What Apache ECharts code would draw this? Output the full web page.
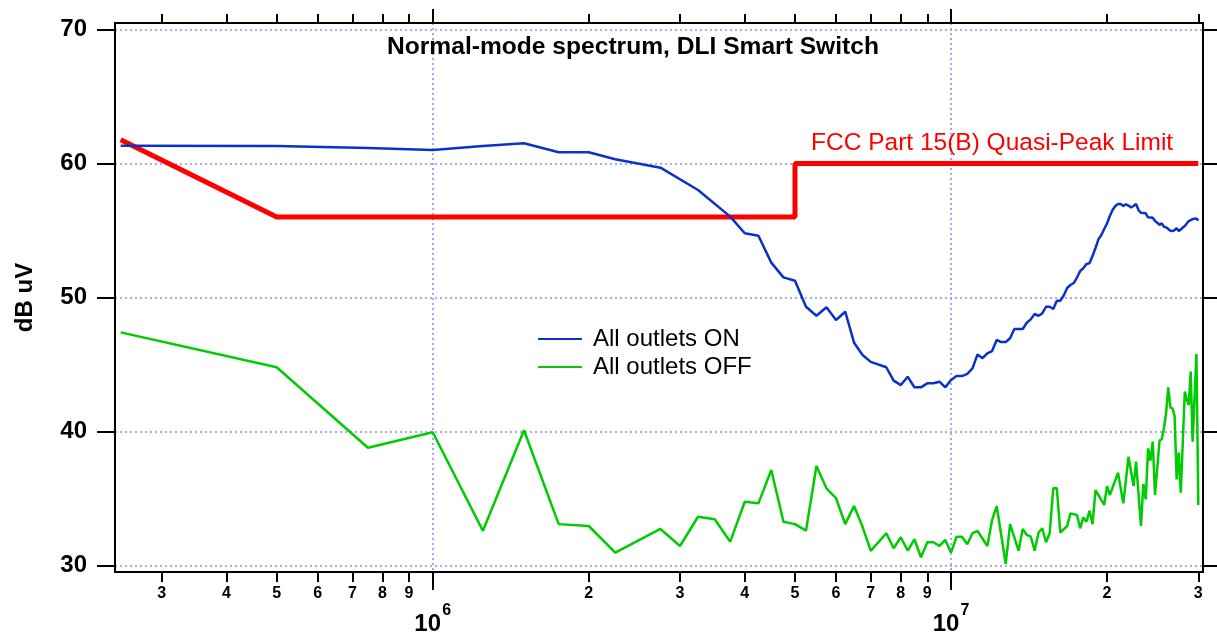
<!DOCTYPE html>
<html>
<head>
<meta charset="utf-8">
<title>Normal-mode spectrum, DLI Smart Switch</title>
<script src="https://cdn.jsdelivr.net/npm/echarts@6/dist/echarts.min.js"></script>
<style>
  html, body { margin: 0; padding: 0; background: #fff; }
  #chart { width: 1217px; height: 639px; }
</style>
</head>
<body>
<div id="chart"></div>
<script>
// frequencies in MHz, levels in dB uV
const onFreqMHz = [
  0.25, 0.5, 0.75, 1.0, 1.25, 1.5, 1.75, 2.0, 2.25, 2.75, 3.25, 3.75, 4.0, 4.25, 4.5, 4.75,
  5.0, 5.25, 5.5, 5.75, 6.0, 6.25, 6.5, 6.75, 7.0, 7.5, 7.75, 8.0, 8.25, 8.5, 8.75, 9.0,
  9.25, 9.5, 9.75, 10.0, 10.25, 10.5, 10.75, 11.0, 11.25, 11.5, 11.75, 12.0, 12.25, 12.5,
  12.75, 13.0, 13.25, 13.5, 13.75, 14.0, 14.25, 14.5, 14.75, 15.0, 15.25, 15.5, 15.75,
  16.0, 16.25, 16.5, 16.75, 17.0, 17.25, 17.5, 17.75, 18.0, 18.25, 18.5, 18.75, 19.0,
  19.25, 19.5, 19.75, 20.0, 20.25, 20.5, 20.75, 21.0, 21.25, 21.5, 21.75, 22.0, 22.25,
  22.5, 22.75, 23.0, 23.25, 23.5, 23.75, 24.0, 24.25, 24.5, 24.75, 25.0, 25.25, 25.5,
  25.75, 26.0, 26.25, 26.5, 26.75, 27.0, 27.25, 27.5, 27.75, 28.0, 28.25, 28.5, 28.75,
  29.0, 29.25, 29.5, 29.75, 30.0
]
const onLevel = [
  61.32, 61.3, 61.15, 61.0, 61.3, 61.5, 60.83, 60.83, 60.31, 59.68, 58.02, 56.03, 54.79, 54.61, 52.6, 51.5,
  51.25, 49.31, 48.64, 49.27, 48.32, 48.94, 46.63, 45.71, 45.2, 44.8, 43.8, 43.47, 44.09, 43.3, 43.3, 43.6,
  43.6, 43.72, 43.3, 43.85, 44.14, 44.14, 44.3, 44.72, 45.76, 45.47, 45.84, 46.01, 46.83, 46.68,
  46.68, 46.96, 47.65, 47.65, 47.65, 48.12, 48.37, 48.77, 48.64, 48.82, 49.31, 49.31, 49.14,
  49.76, 49.76, 50.15, 50.71, 50.93, 51.08, 51.49, 51.98, 52.18, 52.5, 52.55, 53.09, 53.69,
  54.34, 54.66, 55.11, 55.53, 56.08, 56.52, 56.82, 56.97, 56.97, 56.82, 56.95, 56.86, 56.71,
  56.82, 56.97, 56.52, 56.32, 56.3, 56.28, 55.98, 55.97, 55.95, 55.7, 55.58, 55.41, 55.53,
  55.28, 55.23, 55.11, 54.98, 54.96, 55.03, 55.16, 54.96, 55.07, 55.22, 55.33, 55.41, 55.7,
  55.82, 55.85, 55.74, 55.89, 55.73
]

const offFreqMHz = [
  0.25, 0.5, 0.75, 1.0, 1.25, 1.5, 1.75, 2.0, 2.25, 2.75, 3.0, 3.25, 3.5, 3.75, 4.0, 4.25,
  4.5, 4.75, 5.0, 5.25, 5.5, 5.75, 6.0, 6.25, 6.5, 6.75, 7.0, 7.5, 7.75, 8.0, 8.25, 8.5,
  8.75, 9.0, 9.25, 9.5, 9.75, 10.0, 10.25, 10.5, 10.75, 11.0, 11.25, 11.75, 12.0, 12.25,
  12.75, 13.0, 13.5, 13.75, 14.0, 14.25, 14.5, 14.75, 15.0, 15.25, 15.5, 15.75, 16.0,
  16.25, 16.75, 17.0, 17.5, 17.75, 18.0, 18.25, 18.5, 18.75, 19.0, 19.75, 20.0, 20.25,
  21.0, 21.5, 22.0, 22.5, 22.75, 23.25, 23.5, 23.75, 24.0, 24.25, 24.5, 24.75, 25.25,
  25.5, 25.75, 26.0, 26.25, 26.5, 26.75, 27.0, 27.25, 27.5, 27.75, 28.25, 28.5, 28.75,
  29.0, 29.25, 29.75, 30.0
]
const offLevel = [
  47.4, 44.8, 38.8, 39.95, 32.6, 40.1, 33.1, 32.96, 30.97, 32.74, 31.47, 33.65, 33.46, 31.79, 34.77, 34.65,
  37.14, 33.28, 33.1, 32.61, 37.44, 35.77, 35.03, 33.1, 34.45, 32.9, 31.1, 32.42, 31.3, 32.12, 31.12, 31.97,
  30.63, 31.75, 31.75, 31.47, 31.92, 30.97, 32.16, 32.16, 31.6, 32.42, 32.59, 31.47, 33.4, 34.45,
  30.13, 33.1, 31.12, 32.74, 32.3, 32.16, 31.12, 32.46, 32.79, 31.75, 32.42, 35.77, 35.77,
  32.46, 32.96, 33.9, 33.78, 32.79, 33.6, 33.28, 34.1, 33.1, 35.64, 34.53, 35.94, 35.27,
  36.93, 34.65, 38.13, 35.94, 37.76, 32.96, 36.09, 34.95, 38.76, 37.83, 39.25, 35.27, 39.32,
  39.43, 40.25, 41.4, 43.3, 41.8, 41.74, 41.16, 36.44, 38.43, 35.44, 42.98, 42.4, 41.98,
  44.47, 39.25, 45.79, 34.53
]

// FCC Part 15(B) quasi-peak limit
const limitFreqMHz = [0.25, 0.5, 5, 5, 30]
const limitLevel = [61.76, 56, 56, 60, 60]

// axis ticks
const minorTicks = [3e5, 4e5, 5e5, 6e5, 7e5, 8e5, 9e5, 2e6, 3e6, 4e6, 5e6, 6e6, 7e6, 8e6, 9e6, 2e7, 3e7]
const majorTicks = [1e6, 1e7]
const yTicks = [30, 40, 50, 60, 70]

const font = '"Liberation Sans", Arial, Helvetica, sans-serif'
const gridColor = '#8a8aff'

const toPairs = (freqs, levels) => freqs.map((f, i) => [f * 1e6, levels[i]])

const leadDigit = (v) => String(Math.round(v / Math.pow(10, Math.floor(Math.log10(v) + 1e-9))))
const exponent = (v) => String(Math.round(Math.log10(v)))

const xBase = {
  type: 'log',
  logBase: 10,
  min: 2.438e5,
  max: 3.063e7,
  axisLine: { show: true, onZero: false, lineStyle: { color: '#000', width: 2 } },
  splitLine: { show: false },
  minorTick: { show: false },
}

const tickLine = { color: '#000', width: 2 }
const dotted = { color: gridColor, width: 1.5, type: [2, 3] }

const chart = echarts.init(document.getElementById('chart'))

chart.setOption({
  animation: false,
  backgroundColor: '#fff',
  textStyle: { fontFamily: font },
  title: [
    {
      text: 'Normal-mode spectrum, DLI Smart Switch',
      left: 387,
      top: 35,
      padding: 0,
      textStyle: { fontFamily: font, fontSize: 24.6, fontWeight: 'bold', color: '#000' },
    },
    {
      text: 'FCC Part 15(B) Quasi-Peak Limit',
      left: 811,
      top: 131,
      padding: 0,
      textStyle: { fontFamily: font, fontSize: 24.5, fontWeight: 'normal', color: '#ff0000' },
    },
  ],
  legend: {
    data: ['All outlets ON', 'All outlets OFF'],
    orient: 'vertical',
    left: 538,
    top: 327,
    padding: 0,
    icon: 'rect',
    itemWidth: 44,
    itemHeight: 2,
    itemGap: 4,
    textStyle: { fontFamily: font, fontSize: 24, color: '#000', padding: [0, 0, 0, 6] },
  },
  grid: { left: 115, top: 23, width: 1088, height: 549, containLabel: false },
  xAxis: [
    {
      // minor decade ticks with single-digit labels
      ...xBase,
      position: 'bottom',
      axisTick: { show: true, inside: false, length: 10, lineStyle: tickLine, customValues: minorTicks },
      axisLabel: {
        customValues: minorTicks,
        formatter: leadDigit,
        margin: 14,
        fontFamily: font,
        fontSize: 16,
        fontWeight: 'bold',
        color: '#000',
      },
    },
    {
      // decade ticks, "10" part of the label, vertical grid lines
      ...xBase,
      position: 'bottom',
      axisTick: { show: true, inside: false, length: 18, lineStyle: tickLine, customValues: majorTicks },
      axisLabel: {
        customValues: majorTicks,
        formatter: () => '10',
        margin: 40,
        padding: [0, 10, 0, 0],
        fontFamily: font,
        fontSize: 24,
        fontWeight: 'bold',
        color: '#000',
      },
      splitLine: { show: true, lineStyle: dotted },
    },
    {
      // decade exponent as superscript
      ...xBase,
      position: 'bottom',
      axisLine: { show: false },
      axisTick: { show: false, customValues: majorTicks },
      axisLabel: {
        customValues: majorTicks,
        formatter: exponent,
        margin: 31,
        padding: [0, 0, 0, 28],
        fontFamily: font,
        fontSize: 16,
        fontWeight: 'bold',
        color: '#000',
      },
    },
    {
      ...xBase,
      position: 'top',
      axisTick: { show: true, inside: false, length: 9, lineStyle: tickLine, customValues: minorTicks },
      axisLabel: { show: false },
    },
    {
      ...xBase,
      position: 'top',
      axisTick: { show: true, inside: false, length: 14, lineStyle: tickLine, customValues: majorTicks },
      axisLabel: { show: false },
    },
  ],
  yAxis: [
    {
      type: 'value',
      position: 'left',
      min: 29.53,
      max: 70.47,
      name: 'dB uV',
      nameLocation: 'middle',
      nameGap: 78,
      nameRotate: 90,
      nameTextStyle: { fontFamily: font, fontSize: 24, fontWeight: 'bold', color: '#000' },
      axisLine: { show: true, onZero: false, lineStyle: { color: '#000', width: 2 } },
      axisTick: { show: true, inside: false, length: 18, lineStyle: tickLine, customValues: yTicks },
      axisLabel: { customValues: yTicks, margin: 28, fontFamily: font, fontSize: 24, fontWeight: 'bold', color: '#000' },
      splitLine: { show: true, lineStyle: dotted },
    },
    {
      type: 'value',
      position: 'right',
      min: 29.53,
      max: 70.47,
      axisLine: { show: true, onZero: false, lineStyle: { color: '#000', width: 2 } },
      axisTick: { show: true, inside: false, length: 16, lineStyle: tickLine, customValues: yTicks },
      axisLabel: { show: false },
      splitLine: { show: false },
    },
  ],
  series: [
    {
      name: 'FCC limit',
      type: 'line',
      data: toPairs(limitFreqMHz, limitLevel),
      symbol: 'none',
      lineStyle: { color: '#ff0000', width: 5 },
      itemStyle: { color: '#ff0000' },
      z: 2,
    },
    {
      name: 'All outlets ON',
      type: 'line',
      data: toPairs(onFreqMHz, onLevel),
      symbol: 'none',
      lineStyle: { color: '#0a32c8', width: 2.5 },
      itemStyle: { color: '#0a32c8' },
      z: 3,
    },
    {
      name: 'All outlets OFF',
      type: 'line',
      data: toPairs(offFreqMHz, offLevel),
      symbol: 'none',
      lineStyle: { color: '#00cc00', width: 2.5 },
      itemStyle: { color: '#00cc00' },
      z: 3,
    },
  ],
})

window.onresize = () => chart.resize()
</script>
</body>
</html>
